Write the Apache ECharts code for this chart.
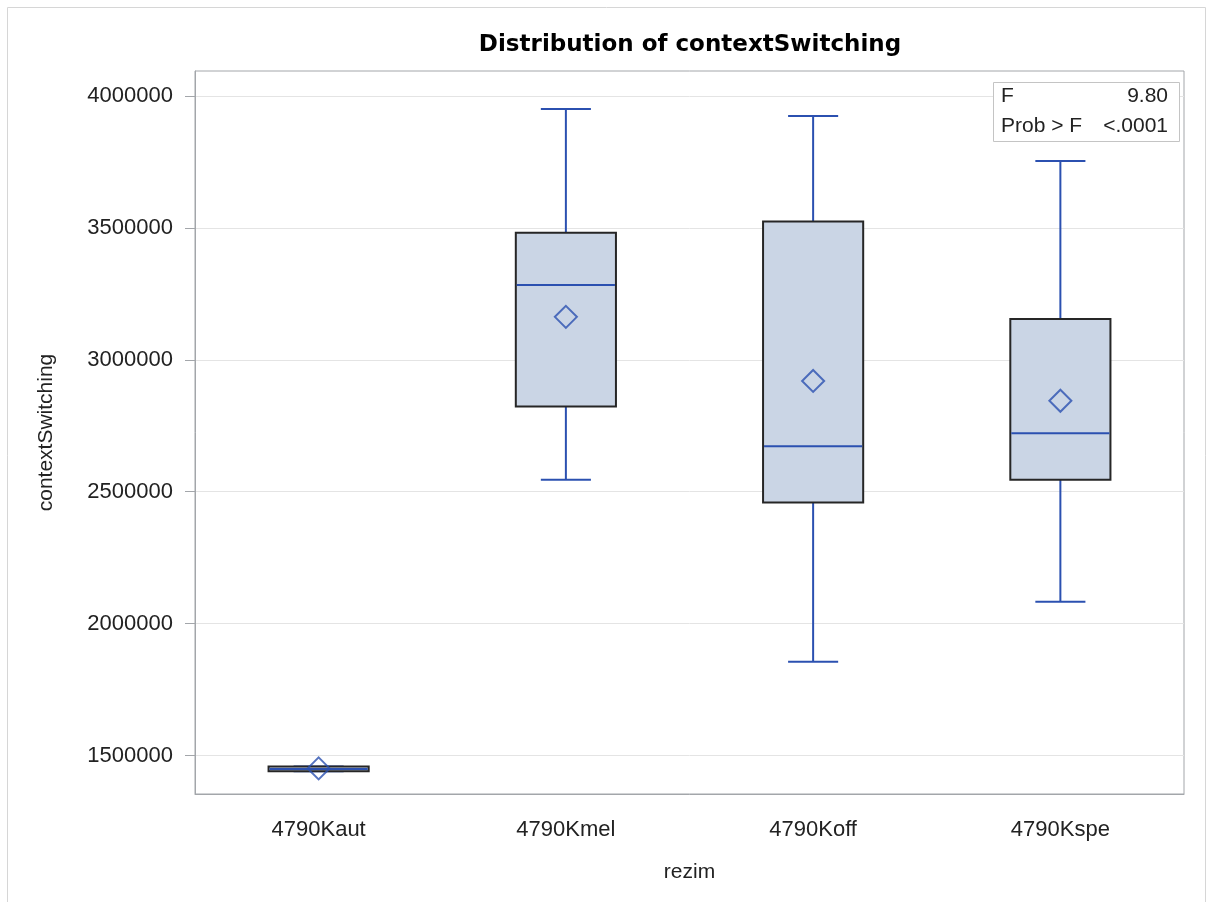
<!DOCTYPE html>
<html><head><meta charset="utf-8">
<script src="https://cdn.jsdelivr.net/npm/echarts@6/dist/echarts.min.js"></script>
<style>html,body{margin:0;padding:0;background:#fff}#c{width:1209px;height:902px}</style>
</head><body><div id="c"></div>
<script>
const categories = ['4790Kaut', '4790Kmel', '4790Koff', '4790Kspe'];
const whiskerLow = [1440000, 2545000, 1855000, 2083000];
const q1 = [1440000, 2823000, 2459000, 2545000];
const median = [1449000, 3284000, 2672000, 2722000];
const q3 = [1458000, 3482000, 3524000, 3155000];
const whiskerHigh = [1458000, 3951000, 3924000, 3754000];
const means = [1451000, 3163000, 2920000, 2845000];
const yTicks = [1500000, 2000000, 2500000, 3000000, 3500000, 4000000];
const yMin = 1354000, yMax = 4095000;
const statLabels = ['F', 'Prob > F'];
const statValues = ['9.80', '<.0001'];

const BLUE = '#2B50B0';
const FILL = '#CAD5E5';
const AXIS = '#A3A6AA';
const FONT = "'Liberation Sans', Arial, sans-serif";

const boxData = categories.map((c, i) => [i, whiskerLow[i], q1[i], median[i], q3[i], whiskerHigh[i]]);
const meanData = categories.map((c, i) => [i, means[i]]);

function renderBox(params, api) {
  const i = api.value(0);
  const pLo = api.coord([i, api.value(1)]);
  const pQ1 = api.coord([i, api.value(2)]);
  const pMed = api.coord([i, api.value(3)]);
  const pQ3 = api.coord([i, api.value(4)]);
  const pHi = api.coord([i, api.value(5)]);
  const band = api.size([1, 0])[0];
  const bw = band * 0.405;
  const cw = bw / 2;
  const x = pMed[0];
  const ls = { stroke: BLUE, lineWidth: 2 };
  return {
    type: 'group',
    children: [
      { type: 'line', shape: { x1: x, y1: pHi[1], x2: x, y2: pQ3[1] }, style: ls },
      { type: 'line', shape: { x1: x, y1: pQ1[1], x2: x, y2: pLo[1] }, style: ls },
      { type: 'line', shape: { x1: x - cw / 2, y1: pHi[1], x2: x + cw / 2, y2: pHi[1] }, style: ls },
      { type: 'line', shape: { x1: x - cw / 2, y1: pLo[1], x2: x + cw / 2, y2: pLo[1] }, style: ls },
      { type: 'rect', shape: { x: x - bw / 2, y: pQ3[1], width: bw, height: pQ1[1] - pQ3[1] },
        style: { fill: FILL, stroke: '#262626', lineWidth: 2 } },
      { type: 'line', shape: { x1: x - bw / 2 + 1, y1: pMed[1], x2: x + bw / 2 - 1, y2: pMed[1] }, style: ls }
    ]
  };
}

const chart = echarts.init(document.getElementById('c'), null, { renderer: 'canvas' });
chart.setOption({
  animation: false,
  backgroundColor: '#fff',
  title: {
    text: 'Distribution of contextSwitching',
    left: 685, top: 29, textAlign: 'center',
    textStyle: { fontFamily: "'DejaVu Sans', sans-serif", fontWeight: 'bold', fontSize: 23, color: '#000' }
  },
  grid: { left: 195, right: 25, top: 71, bottom: 108, show: true, borderColor: AXIS, borderWidth: 1, backgroundColor: 'transparent' },
  xAxis: {
    type: 'category', data: categories, boundaryGap: true,
    name: 'rezim', nameLocation: 'middle', nameGap: 68,
    nameTextStyle: { fontFamily: FONT, fontSize: 21, color: '#222' },
    axisLine: { lineStyle: { color: AXIS } },
    axisTick: { alignWithLabel: true, length: 10, lineStyle: { color: AXIS } },
    axisLabel: { fontFamily: FONT, fontSize: 22, color: '#222', margin: 25 },
    splitLine: { show: false }
  },
  yAxis: {
    type: 'value', min: yMin, max: yMax,
    name: 'contextSwitching', nameLocation: 'middle', nameGap: 138, nameRotate: 90,
    nameTextStyle: { fontFamily: FONT, fontSize: 21, color: '#222' },
    axisLine: { show: true, lineStyle: { color: AXIS } },
    axisTick: { show: true, length: 10, customValues: yTicks, lineStyle: { color: AXIS } },
    axisLabel: { fontFamily: FONT, fontSize: 22, color: '#222', margin: 22, customValues: yTicks,
      formatter: v => String(v) },
    splitLine: { show: true, lineStyle: { color: '#E4E4E4', width: 1 } }
  },
  graphic: [
    { type: 'rect', shape: { x: 7.5, y: 7.5, width: 1198, height: 1000 }, style: { fill: 'none', stroke: '#D6D6D6', lineWidth: 1 }, silent: true },
    { type: 'rect', shape: { x: 993.5, y: 82.5, width: 186, height: 59 }, style: { fill: '#fff', stroke: '#C4C4C4', lineWidth: 1 }, z: 100 },
    { type: 'text', x: 1001, y: 96, style: { text: statLabels[0], font: "21px 'Liberation Sans', Arial", fill: '#222', verticalAlign: 'middle', align: 'left' }, z: 101 },
    { type: 'text', x: 1168, y: 96, style: { text: statValues[0], font: "21px 'Liberation Sans', Arial", fill: '#222', verticalAlign: 'middle', align: 'right' }, z: 101 },
    { type: 'text', x: 1001, y: 126, style: { text: statLabels[1], font: "21px 'Liberation Sans', Arial", fill: '#222', verticalAlign: 'middle', align: 'left' }, z: 101 },
    { type: 'text', x: 1168, y: 126, style: { text: statValues[1], font: "21px 'Liberation Sans', Arial", fill: '#222', verticalAlign: 'middle', align: 'right' }, z: 101 }
  ],
  series: [
    {
      type: 'custom', renderItem: renderBox, data: boxData,
      encode: { x: 0, y: [1, 2, 3, 4, 5] }, z: 2
    },
    {
      type: 'scatter', data: meanData, symbol: 'diamond', symbolSize: [22, 22],
      itemStyle: { color: 'rgba(0,0,0,0)', borderColor: BLUE, borderWidth: 2 }, z: 3
    }
  ]
});
</script>
</body></html>
